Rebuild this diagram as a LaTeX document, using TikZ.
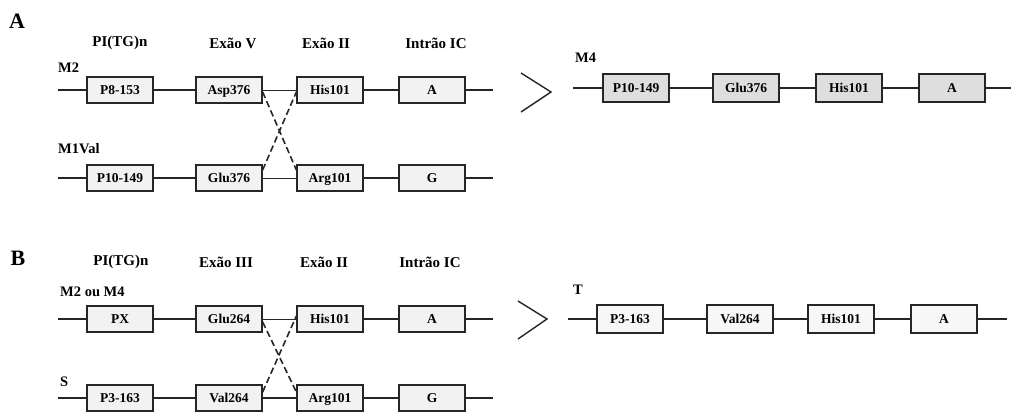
\documentclass[tikz,border=0pt]{standalone}
\usepackage{fontspec}
\setmainfont{Liberation Serif}
\begin{document}
\begin{tikzpicture}[x=1pt,y=-1pt,
  gene/.style={draw=black!85, line width=1.3pt, fill=black!5, minimum width=66pt, minimum height=26pt, inner sep=0pt, text height=9pt, text depth=0pt, font=\fontsize{13.5}{15}\selectfont\bfseries},
  genedark/.style={gene, fill=black!13, minimum height=28pt},
  genet/.style={gene, fill=black!3, minimum height=28pt},
  hdr/.style={font=\fontsize{15}{17}\selectfont\bfseries},
  rowlab/.style={anchor=west, inner sep=0pt, font=\fontsize{14.5}{17}\selectfont\bfseries},
  panel/.style={font=\fontsize{22}{24}\selectfont\bfseries},
  wire/.style={line width=1.3pt, black!85},
  cross/.style={line width=1.6pt, dash pattern=on 6.5pt off 3.5pt, black!85},
  chev/.style={line width=1.4pt, black!85}]
\useasboundingbox (0,0) rectangle (1011,412);

% ---------- Panel A ----------
\node[panel] (pA) at (17,21) {A};
\node[hdr] (hA1) at (120,43) {PI(TG)n};
\node[hdr] (hA2) at (233,43) {Exão V};
\node[hdr] (hA3) at (326,43) {Exão II};
\node[hdr] (hA4) at (436,43) {Intrão IC};

\node[rowlab] (lM2) at (58,68) {M2};
\coordinate (a1l) at (58,90);
\coordinate (a1r) at (493,90);
\node[gene] (a11) at (120,90) {P8-153};
\node[gene] (a12) at (229,90) {Asp376};
\node[gene] (a13) at (330,90) {His101};
\node[gene] (a14) at (432,90) {A};
\draw[wire] (a1l) -- (a11);
\draw[wire] (a11) -- (a12);
\draw[wire, line width=1pt] (a12) -- (a13);
\draw[wire] (a13) -- (a14);
\draw[wire] (a14) -- (a1r);

\node[rowlab] (lM1) at (58,149) {M1Val};
\coordinate (a2l) at (58,178);
\coordinate (a2r) at (493,178);
\node[gene] (a21) at (120,178) {P10-149};
\node[gene] (a22) at (229,178) {Glu376};
\node[gene] (a23) at (330,178) {Arg101};
\node[gene] (a24) at (432,178) {G};
\draw[wire] (a2l) -- (a21);
\draw[wire] (a21) -- (a22);
\draw[wire, line width=0.7pt] (a22) -- (a23);
\draw[wire] (a23) -- (a24);
\draw[wire] (a24) -- (a2r);

\draw[cross] ([yshift=-2pt]a12.east) -- ([yshift=8pt]a23.west);
\draw[cross] ([yshift=8pt]a22.east) -- ([yshift=-2pt]a13.west);

\coordinate (cA1) at (521,73);
\coordinate (cA2) at (551,92);
\coordinate (cA3) at (521,112);
\draw[chev] (cA1) -- (cA2) -- (cA3);

\node[rowlab] (lM4) at (575,58) {M4};
\coordinate (a3l) at (573,88);
\coordinate (a3r) at (1011,88);
\node[genedark] (a31) at (636,88) {P10-149};
\node[genedark] (a32) at (746,88) {Glu376};
\node[genedark] (a33) at (849,88) {His101};
\node[genedark] (a34) at (952,88) {A};
\draw[wire] (a3l) -- (a31);
\draw[wire] (a31) -- (a32);
\draw[wire] (a32) -- (a33);
\draw[wire] (a33) -- (a34);
\draw[wire] (a34) -- (a3r);

% ---------- Panel B ----------
\node[panel] (pB) at (18,258) {B};
\node[hdr] (hB1) at (121,262) {PI(TG)n};
\node[hdr] (hB2) at (226,262) {Exão III};
\node[hdr] (hB3) at (324,262) {Exão II};
\node[hdr] (hB4) at (430,262) {Intrão IC};

\node[rowlab] (lM2M4) at (60,292) {M2 ou M4};
\coordinate (b1l) at (58,319);
\coordinate (b1r) at (493,319);
\node[gene] (b11) at (120,319) {PX};
\node[gene] (b12) at (229,319) {Glu264};
\node[gene] (b13) at (330,319) {His101};
\node[gene] (b14) at (432,319) {A};
\draw[wire] (b1l) -- (b11);
\draw[wire] (b11) -- (b12);
\draw[wire, line width=1pt] (b12) -- (b13);
\draw[wire] (b13) -- (b14);
\draw[wire] (b14) -- (b1r);

\node[rowlab] (lS) at (60,382) {S};
\coordinate (b2l) at (58,398);
\coordinate (b2r) at (493,398);
\node[gene] (b21) at (120,398) {P3-163};
\node[gene] (b22) at (229,398) {Val264};
\node[gene] (b23) at (330,398) {Arg101};
\node[gene] (b24) at (432,398) {G};
\draw[wire] (b2l) -- (b21);
\draw[wire] (b21) -- (b22);
\draw[wire] (b22) -- (b23);
\draw[wire] (b23) -- (b24);
\draw[wire] (b24) -- (b2r);

\draw[cross] ([yshift=-3pt]b12.east) -- ([yshift=6pt]b23.west);
\draw[cross] ([yshift=6pt]b22.east) -- ([yshift=3pt]b13.west);

\coordinate (cB1) at (518,301);
\coordinate (cB2) at (547,319);
\coordinate (cB3) at (518,339);
\draw[chev] (cB1) -- (cB2) -- (cB3);

\node[rowlab] (lT) at (573,290) {T};
\coordinate (b3l) at (568,319);
\coordinate (b3r) at (1007,319);
\node[genet] (b31) at (630,319) {P3-163};
\node[genet] (b32) at (740,319) {Val264};
\node[genet] (b33) at (841,319) {His101};
\node[genet] (b34) at (944,319) {A};
\draw[wire] (b3l) -- (b31);
\draw[wire] (b31) -- (b32);
\draw[wire] (b32) -- (b33);
\draw[wire] (b33) -- (b34);
\draw[wire] (b34) -- (b3r);
\end{tikzpicture}
\end{document}
